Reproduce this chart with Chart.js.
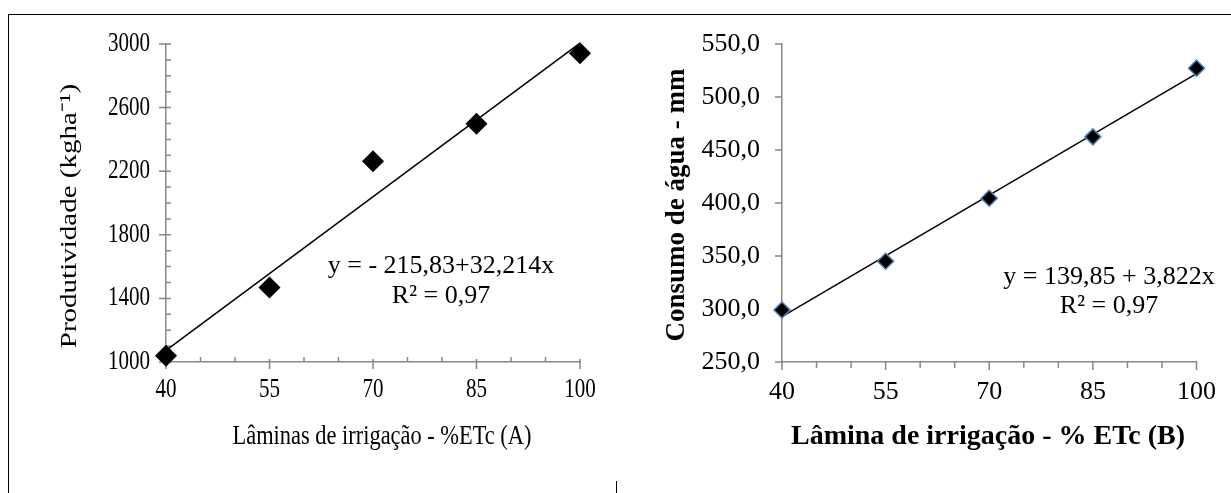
<!DOCTYPE html>
<html lang="pt-BR">
<head>
<meta charset="utf-8">
<title>Produtividade e consumo de água</title>
<script src="https://cdn.jsdelivr.net/npm/chart.js@4/dist/chart.umd.min.js"></script>
<style>
    html, body { margin: 0; padding: 0; background: #fff; }
    body { width: 1231px; height: 493px; position: relative; overflow: hidden; }
    /* table cell edges around the two panels */
    .frame { position: absolute; left: 8px; top: 14px; right: 0; bottom: 0;
             border-top: 1px solid #000; border-left: 1px solid #000; }
    .cell-edge { position: absolute; left: 616px; top: 481px; width: 1px; height: 12px; background: #000; }
    canvas { position: absolute; top: 0; }
    #chartA { left: 0; }
    #chartB { left: 616px; }
</style>
</head>
<body>
<div class="frame"></div>
<div class="cell-edge"></div>
<canvas id="chartA" width="616" height="493"></canvas>
<canvas id="chartB" width="615" height="493"></canvas>
<script>
// Irrigation depth (% ETc) shared by both panels
const laminas = [40, 55, 70, 85, 100];

// (A) yield, kg ha-1
const produtividade = [1040, 1468, 2262, 2498, 2942];
// (B) water consumption, mm
const consumoAgua = [299.1, 345.1, 404.5, 462.4, 527.2];

// Axis tick labels
const xTicks = [40, 55, 70, 85, 100];
const yTicksA = [1000, 1400, 1800, 2200, 2600, 3000];
const yTicksB = [250, 300, 350, 400, 450, 500, 550];

// Fitted lines as printed on each panel
const ajusteA = { a: -215.83, b: 32.214, eq: 'y = - 215,83+32,214x', r2: 'R² = 0,97' };
const ajusteB = { a: 139.85, b: 3.822, eq: 'y = 139,85 + 3,822x', r2: 'R² = 0,97' };

const SERIF = '"Liberation Serif", "Times New Roman", serif';
const AXIS_GREY = '#888888';

// minor tick positions between the labelled ones
function minorTicks(min, max, step, majors) {
    const out = [];
    for (let v = min; v <= max + 1e-9; v += step) {
        if (!majors.some(m => Math.abs(m - v) < 1e-9)) out.push(v);
    }
    return out;
}

// text helper: optional bold, rotation and horizontal squeeze
function drawText(ctx, t) {
    ctx.save();
    ctx.font = (t.bold ? 'bold ' : '') + t.size + 'px ' + SERIF;
    ctx.fillStyle = '#000';
    ctx.textAlign = t.align || 'center';
    ctx.textBaseline = 'middle';
    ctx.translate(t.x, t.y);
    const sq = t.squeeze || 1;
    if (t.vertical) {
        ctx.rotate(-Math.PI / 2);
        ctx.scale(1, sq);
    } else {
        ctx.scale(sq, 1);
    }
    ctx.fillText(t.text, 0, 0);
    ctx.restore();
}

/**
 * Draws tick marks that can sit inside, outside or across the axis line.
 */
const axisTicks = {
    id: 'axisTicks',
    beforeDatasetsDraw(chart, args, opts) {
        const { ctx, chartArea, scales } = chart;
        ctx.save();
        ctx.strokeStyle = AXIS_GREY;
        ctx.lineWidth = 1.5;
        ctx.beginPath();
        for (const mark of opts.marks || []) {
            const scale = scales[mark.axis];
            for (const v of mark.values) {
                const p = scale.getPixelForValue(v);
                if (mark.axis === 'y') {
                    ctx.moveTo(chartArea.left - mark.out, p);
                    ctx.lineTo(chartArea.left + mark.in, p);
                } else {
                    ctx.moveTo(p, chartArea.bottom - mark.in);
                    ctx.lineTo(p, chartArea.bottom + mark.out);
                }
            }
        }
        ctx.stroke();
        ctx.restore();

        // narrow tick labels (panel A)
        const lab = opts.labels;
        if (!lab) return;
        for (const tick of scales.x.ticks) {
            drawText(ctx, { text: String(tick.value), x: scales.x.getPixelForValue(tick.value), y: lab.xY,
                            size: lab.size, squeeze: lab.squeeze });
        }
        for (const tick of scales.y.ticks) {
            drawText(ctx, { text: String(tick.value), x: lab.yRight, y: scales.y.getPixelForValue(tick.value),
                            size: lab.size, squeeze: lab.squeeze, align: 'right' });
        }
    }
};

/**
 * Free text: axis titles and the regression equation.
 */
const panelText = {
    id: 'panelText',
    afterDatasetsDraw(chart, args, opts) {
        for (const t of opts.items || []) drawText(chart.ctx, t);
    }
};

function buildPanel(canvasId, cfg) {
    const fitLine = [laminas[0], laminas[laminas.length - 1]].map(x => ({ x, y: cfg.fit.a + cfg.fit.b * x }));
    const tickFont = { family: SERIF, size: 26 };
    const ownLabels = !!cfg.labels;

    return new Chart(document.getElementById(canvasId), {
        type: 'scatter',
        data: {
            datasets: [
                {
                    data: laminas.map((x, i) => ({ x, y: cfg.values[i] })),
                    pointStyle: 'rectRot',
                    pointRadius: cfg.markerRadius,
                    backgroundColor: '#000',
                    borderColor: cfg.markerEdge,
                    borderWidth: cfg.markerEdgeWidth,
                    order: 0,
                    clip: false
                },
                {
                    data: fitLine,
                    showLine: true,
                    pointRadius: 0,
                    borderColor: '#000',
                    borderWidth: 1.5,
                    order: 1,
                    clip: false
                }
            ]
        },
        options: {
            responsive: false,
            animation: false,
            devicePixelRatio: 1,
            layout: { padding: { left: 0, top: 44, right: cfg.padRight, bottom: 0 } },
            plugins: {
                legend: { display: false },
                tooltip: { enabled: false },
                axisTicks: { marks: cfg.marks, labels: cfg.labels },
                panelText: { items: cfg.texts }
            },
            scales: {
                x: {
                    type: 'linear',
                    min: xTicks[0],
                    max: xTicks[xTicks.length - 1],
                    afterBuildTicks: s => { s.ticks = xTicks.map(v => ({ value: v })); },
                    afterFit: s => { s.height = 131; },
                    grid: { display: false, drawTicks: false },
                    border: { display: true, color: AXIS_GREY, width: 1.5 },
                    ticks: { display: !ownLabels, font: tickFont, color: '#000', padding: 15, maxRotation: 0, autoSkip: false }
                },
                y: {
                    type: 'linear',
                    min: cfg.yTicks[0],
                    max: cfg.yTicks[cfg.yTicks.length - 1],
                    afterBuildTicks: s => { s.ticks = cfg.yTicks.map(v => ({ value: v })); },
                    afterFit: s => { s.width = 166; },
                    grid: { display: false, drawTicks: false },
                    border: { display: true, color: AXIS_GREY, width: 1.5 },
                    ticks: { display: !ownLabels, font: tickFont, color: '#000', padding: 22, autoSkip: false,
                             callback: v => v.toFixed(1).replace('.', ',') }
                }
            }
        },
        plugins: [axisTicks, panelText]
    });
}

const xMinor = minorTicks(40, 100, 5, xTicks);

buildPanel('chartA', {
    values: produtividade,
    fit: ajusteA,
    yTicks: yTicksA,
    labels: { size: 27, squeeze: 0.78, xY: 390, yRight: 150 },
    padRight: 36,
    markerRadius: 11,
    markerEdge: '#000',
    markerEdgeWidth: 0,
    texts: [
        { text: 'Produtividade (kgha⁻¹)', x: 70, y: 216, size: 29, squeeze: 0.8, vertical: true },
        { text: 'Lâminas de irrigação - %ETc (A)', x: 382, y: 437, size: 27, squeeze: 0.83 },
        { text: ajusteA.eq, x: 441, y: 266, size: 26 },
        { text: ajusteA.r2, x: 441, y: 296, size: 26 }
    ],
    marks: [
        { axis: 'y', values: yTicksA, out: 7, in: 5 },
        { axis: 'y', values: minorTicks(1000, 3000, 100, yTicksA), out: 0, in: 5 },
        { axis: 'x', values: xTicks, out: 7, in: 3 },
        { axis: 'x', values: xMinor, out: 0, in: 5 }
    ]
});

buildPanel('chartB', {
    values: consumoAgua,
    fit: ajusteB,
    yTicks: yTicksB,
    padRight: 24,
    markerRadius: 8,
    markerEdge: '#4a7ebb',
    markerEdgeWidth: 1.5,
    texts: [
        { text: 'Consumo de água - mm', x: 61, y: 205, size: 27, bold: true, vertical: true },
        { text: 'Lâmina de irrigação - % ETc (B)', x: 372, y: 437, size: 28, bold: true },
        { text: ajusteB.eq, x: 493, y: 277, size: 26 },
        { text: ajusteB.r2, x: 493, y: 306, size: 26 }
    ],
    marks: [
        { axis: 'y', values: yTicksB, out: 7, in: 0 },
        { axis: 'x', values: xTicks, out: 8, in: 0 },
        { axis: 'x', values: xMinor, out: 6, in: 0 }
    ]
});
</script>
</body>
</html>
